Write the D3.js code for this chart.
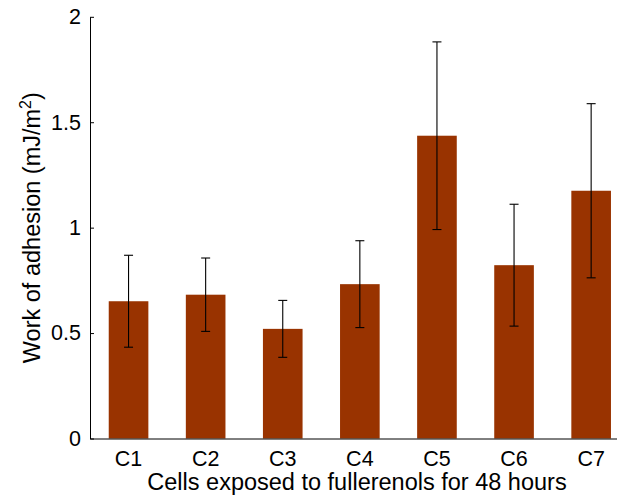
<!DOCTYPE html>
<html><head><meta charset="utf-8">
<script src="https://cdn.jsdelivr.net/npm/d3@7"></script>
<style>body{margin:0;background:#fff}svg{display:block}text{font-family:"Liberation Sans",Arial,sans-serif;fill:#000}</style>
</head><body><svg id="c" width="617" height="502"></svg>
<script>
const categories = ["C1","C2","C3","C4","C5","C6","C7"];
const values = [0.651, 0.682, 0.520, 0.732, 1.436, 0.822, 1.175];
const errors = [0.218, 0.174, 0.135, 0.206, 0.445, 0.289, 0.413];
const yTicks = [0, 0.5, 1, 1.5, 2];
const xLabel = "Cells exposed to fullerenols for 48 hours";
const yLabel = "Work of adhesion (mJ/m";
const yLabelSup = "2";

const svg = d3.select("#c");
const L = 90, T = 16.8, B = 438.5, step = 77.1;
const R = L + step * categories.length;
const x = d3.scaleBand().domain(categories).range([L, R]).paddingInner(0.486).paddingOuter(0.243);
const y = d3.scaleLinear().domain([0, 2]).range([B, T]);

svg.append("g").selectAll("rect").data(categories).join("rect")
  .attr("x", d => x(d)).attr("width", x.bandwidth())
  .attr("y", (d,i) => y(values[i])).attr("height", (d,i) => B - y(values[i]))
  .attr("fill", "#993300");

const eb = svg.append("g").attr("stroke", "#000").attr("stroke-width", 1.1);
categories.forEach((c,i) => {
  const cx = x(c) + x.bandwidth()/2;
  const lo = y(values[i]-errors[i]), hi = y(values[i]+errors[i]);
  eb.append("line").attr("x1",cx).attr("x2",cx).attr("y1",lo).attr("y2",hi);
  eb.append("line").attr("x1",cx-4.5).attr("x2",cx+4.5).attr("y1",lo).attr("y2",lo);
  eb.append("line").attr("x1",cx-4.5).attr("x2",cx+4.5).attr("y1",hi).attr("y2",hi);
});

// y axis
const ya = svg.append("g").attr("transform", `translate(${L},0)`)
  .call(d3.axisLeft(y).tickValues(yTicks).tickFormat(d3.format("")).tickSizeInner(-4).tickSizeOuter(0).tickPadding(9));
ya.select(".domain").attr("stroke","#000");
ya.selectAll(".tick line").attr("stroke","#000");
ya.selectAll("text").attr("font-size", 21.5);

// x axis
const xa = svg.append("g").attr("transform", `translate(0,${B})`)
  .call(d3.axisBottom(x).tickSize(0).tickPadding(12));
xa.select(".domain").attr("stroke","#000");
xa.selectAll("text").attr("font-size", 21.5);
xa.attr("font-family", null); ya.attr("font-family", null);

svg.append("text").attr("x", 357).attr("y", 490).attr("text-anchor","middle")
  .attr("font-size", 23.5).text(xLabel);

const yl = svg.append("text").attr("transform", `translate(40,${(T+B)/2}) rotate(-90)`)
  .attr("text-anchor","middle").attr("font-size", 23.5);
yl.append("tspan").text(yLabel);
yl.append("tspan").attr("dy", -9).attr("font-size", 16).text(yLabelSup);
yl.append("tspan").attr("dy", 9).text(")");
</script></body></html>
